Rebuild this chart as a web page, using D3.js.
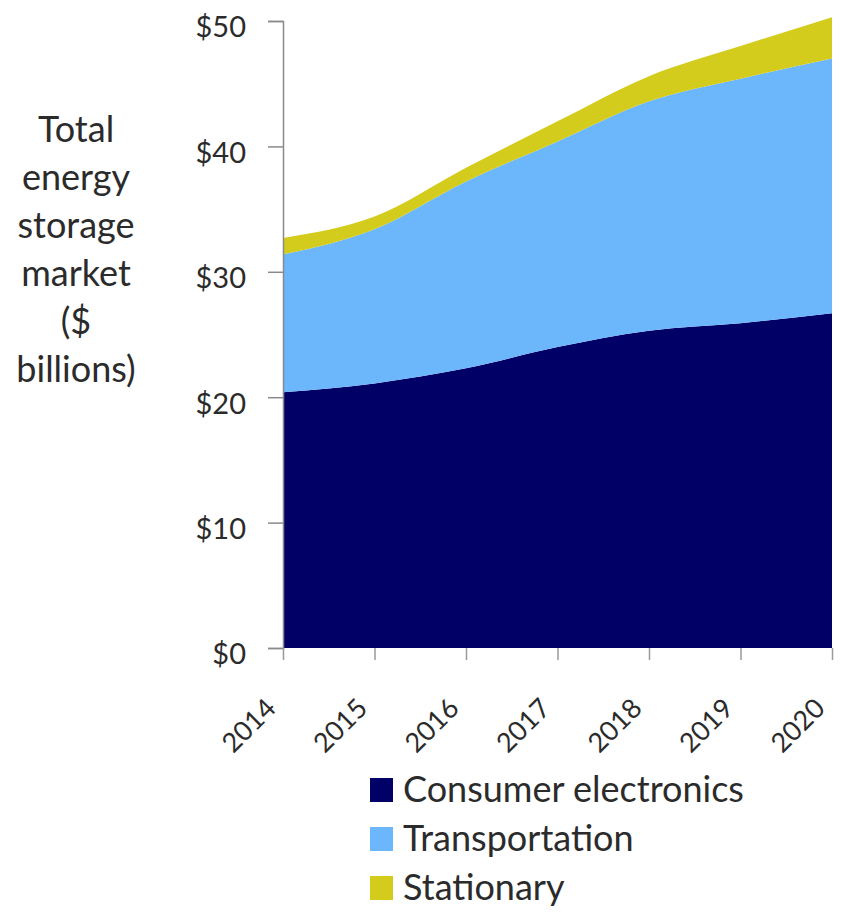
<!DOCTYPE html>
<html>
<head>
<meta charset="utf-8">
<script src="https://cdn.jsdelivr.net/npm/d3@7"></script>
<style>
  body { margin: 0; background: #fff; }
  text { font-family: Lato, "Open Sans", sans-serif; fill: #2b2b2b; }
</style>
</head>
<body>
<svg id="chart" width="841" height="916"></svg>
<script>
const years = [2014, 2015, 2016, 2017, 2018, 2019, 2020];
const consumer = [20.4, 21.1, 22.3, 24.0, 25.3, 25.9, 26.7];
const transportation = [11.0, 12.3, 14.9, 16.4, 18.3, 19.5, 20.3];
const stationary = [1.3, 1.0, 1.1, 1.6, 2.0, 2.6, 3.3];
const seriesNames = ['Consumer electronics', 'Transportation', 'Stationary'];
const colors = ['#000066', '#6cb6fb', '#d4cc1c'];
const yTicks = [0, 10, 20, 30, 40, 50];
const titleLines = ['Total', 'energy', 'storage', 'market', '($', 'billions)'];

const svg = d3.select('#chart');

// table for the stack
const rows = years.map((y, i) => ({
    year: y,
    'Consumer electronics': consumer[i],
    'Transportation': transportation[i],
    'Stationary': stationary[i]
}));
const stacked = d3.stack().keys(seriesNames)(rows);

const xScale = d3.scaleLinear().domain([2014, 2020]).range([283, 832]);
const yScale = d3.scaleLinear().domain([0, 50]).range([648, 21]);

const area = d3.area()
    .x(d => xScale(d.data.year))
    .y0(d => yScale(d[0]))
    .y1(d => yScale(d[1]))
    .curve(d3.curveMonotoneX);

svg.append('g')
    .selectAll('path')
    .data(stacked)
    .enter()
    .append('path')
    .attr('d', area)
    .attr('fill', (d, i) => colors[i]);

// y axis
const yAxis = svg.append('g')
    .attr('transform', 'translate(283,0)')
    .call(d3.axisLeft(yScale).tickValues(yTicks).tickSize(15).tickPadding(22).tickFormat(d => '$' + d));
yAxis.select('.domain').attr('stroke', '#8a8a8a').attr('stroke-width', 1.5);
yAxis.selectAll('.tick line').attr('stroke', '#8a8a8a').attr('stroke-width', 1.5);
yAxis.selectAll('.tick text')
    .style('font-size', '29px')
    .attr('dy', '0.55em')
    .attr('fill', '#2b2b2b');

// x axis
const xAxis = svg.append('g')
    .attr('transform', 'translate(0,648)')
    .call(d3.axisBottom(xScale).tickValues(years).tickSize(12).tickFormat(d3.format('d')));
xAxis.select('.domain').remove();
xAxis.selectAll('.tick line').attr('stroke', '#9a9a9a').attr('stroke-width', 1.5);
xAxis.selectAll('.tick text')
    .style('font-size', '27px')
    .attr('text-anchor', 'end')
    .attr('y', 0)
    .attr('dy', 0)
    .attr('transform', 'translate(-6,62) rotate(-45)')
    .attr('fill', '#2b2b2b');

// y title
svg.append('g')
    .selectAll('text')
    .data(titleLines)
    .enter()
    .append('text')
    .attr('x', 76)
    .attr('y', (d, i) => 142 + i * 48)
    .attr('text-anchor', 'middle')
    .style('font-size', '36px')
    .text(d => d);

// legend
const legend = svg.append('g')
    .selectAll('g')
    .data(seriesNames)
    .enter()
    .append('g')
    .attr('transform', (d, i) => `translate(370, ${778 + i * 49})`);

legend.append('rect')
    .attr('width', 23)
    .attr('height', 24)
    .attr('fill', (d, i) => colors[i]);

legend.append('text')
    .attr('x', 33)
    .attr('y', 24)
    .style('font-size', '36px')
    .text(d => d);
</script>
</body>
</html>
